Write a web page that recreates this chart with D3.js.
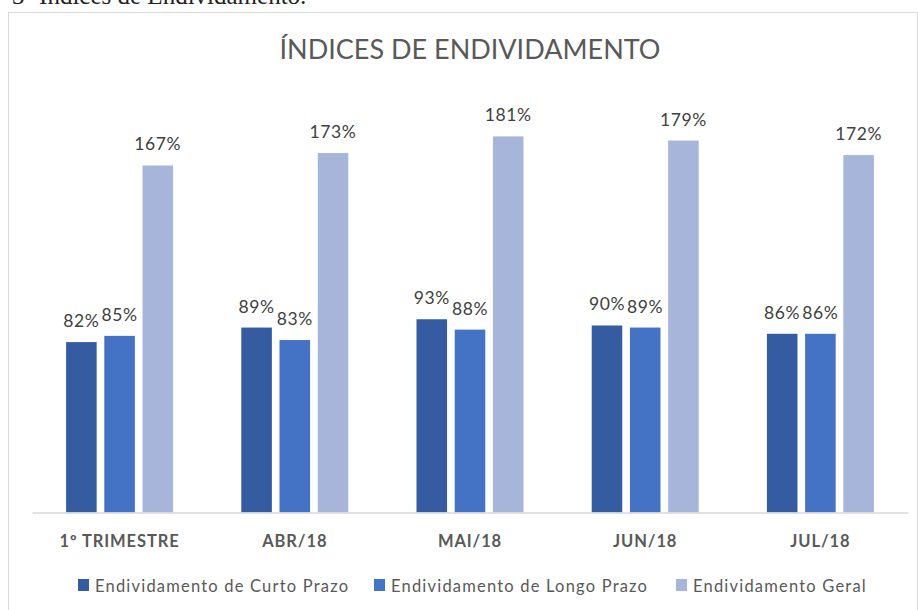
<!DOCTYPE html>
<html>
<head>
<meta charset="utf-8">
<script src="https://cdn.jsdelivr.net/npm/d3@7"></script>
<style>
  body { margin: 0; background: #fff; }
  svg { display: block; }
</style>
</head>
<body>
<div id="chart"></div>
<script>
// data
var categories = ["1º TRIMESTRE", "ABR/18", "MAI/18", "JUN/18", "JUL/18"];
var seriesNames = ["Endividamento de Curto Prazo", "Endividamento de Longo Prazo", "Endividamento Geral"];
var curtoPrazo = [82, 89, 93, 90, 86];
var longoPrazo = [85, 83, 88, 89, 86];
var geral = [167, 173, 181, 179, 172];
var seriesColors = ["#355ca0", "#4472c4", "#a8b5da"];

var w = 918, h = 610;
var font = "Lato, 'Open Sans', sans-serif";

var svg = d3.select("#chart")
    .append("svg")
    .attr("width", w)
    .attr("height", h);

// caption of the document, cut at the top
svg.append("text")
    .attr("x", 12)
    .attr("y", 4)
    .attr("font-family", "'Liberation Serif', serif")
    .attr("font-size", 25)
    .attr("fill", "#222")
    .text("3- Índices de Endividamento.");

// chart frame
svg.append("rect")
    .attr("x", 8.5)
    .attr("y", 12.5)
    .attr("width", 909)
    .attr("height", 620)
    .attr("fill", "#fff")
    .attr("stroke", "#d9d9d9");

svg.append("text")
    .attr("x", 470)
    .attr("y", 59)
    .attr("text-anchor", "middle")
    .attr("font-family", font)
    .attr("font-size", 27)
    .attr("fill", "#595959")
    .text("ÍNDICES DE ENDIVIDAMENTO");

var rows = categories.map(function(c, i) {
    return { cat: c, values: [curtoPrazo[i], longoPrazo[i], geral[i]] };
});

var x0 = d3.scaleBand().domain(categories).range([32, 908]);
var x1 = d3.scaleBand().domain(d3.range(3))
    .range([(x0.bandwidth() - 107) / 2, (x0.bandwidth() + 107) / 2])
    .paddingInner(0.2);
var y = d3.scaleLinear().domain([0, 200]).range([512.5, 96.9]);

var groups = svg.selectAll("g.grp")
    .data(rows)
    .enter()
    .append("g")
    .attr("class", "grp")
    .attr("transform", function(d) { return "translate(" + x0(d.cat) + ",0)"; });

groups.selectAll("rect")
    .data(function(d) { return d.values; })
    .enter()
    .append("rect")
    .attr("x", function(d, i) { return x1(i); })
    .attr("y", function(d) { return y(d); })
    .attr("width", x1.bandwidth())
    .attr("height", function(d) { return y(0) - y(d); })
    .attr("fill", function(d, i) { return seriesColors[i]; });

groups.selectAll("text")
    .data(function(d) { return d.values; })
    .enter()
    .append("text")
    .attr("x", function(d, i) { return x1(i) + x1.bandwidth() / 2; })
    .attr("y", function(d) { return y(d) - 15; })
    .attr("text-anchor", "middle")
    .attr("font-family", font)
    .attr("font-size", 17.5)
    .attr("letter-spacing", 0.6)
    .attr("fill", "#404040")
    .text(function(d) { return d + "%"; });

// x axis
var xAxis = svg.append("g")
    .attr("transform", "translate(0," + y(0) + ")")
    .call(d3.axisBottom(x0).tickSize(0).tickPadding(34));
xAxis.select(".domain").attr("stroke", "#d9d9d9").attr("stroke-width", 1.5);
xAxis.selectAll("text")
    .attr("font-family", font)
    .attr("font-size", 16.5)
    .attr("font-weight", "bold")
    .attr("letter-spacing", 0.9)
    .attr("fill", "#595959")
    .attr("dy", 0);

// legend
var legendX = [78, 374, 676];
var legend = svg.selectAll("g.leg")
    .data(seriesNames)
    .enter()
    .append("g")
    .attr("class", "leg")
    .attr("transform", function(d, i) { return "translate(" + legendX[i] + ",579)"; });
legend.append("rect")
    .attr("width", 11)
    .attr("height", 12)
    .attr("fill", function(d, i) { return seriesColors[i]; });
legend.append("text")
    .attr("x", 17)
    .attr("y", 13)
    .attr("font-family", font)
    .attr("font-size", 16.5)
    .attr("letter-spacing", 1.2)
    .attr("fill", "#595959")
    .text(function(d) { return d; });
</script>
</body>
</html>
